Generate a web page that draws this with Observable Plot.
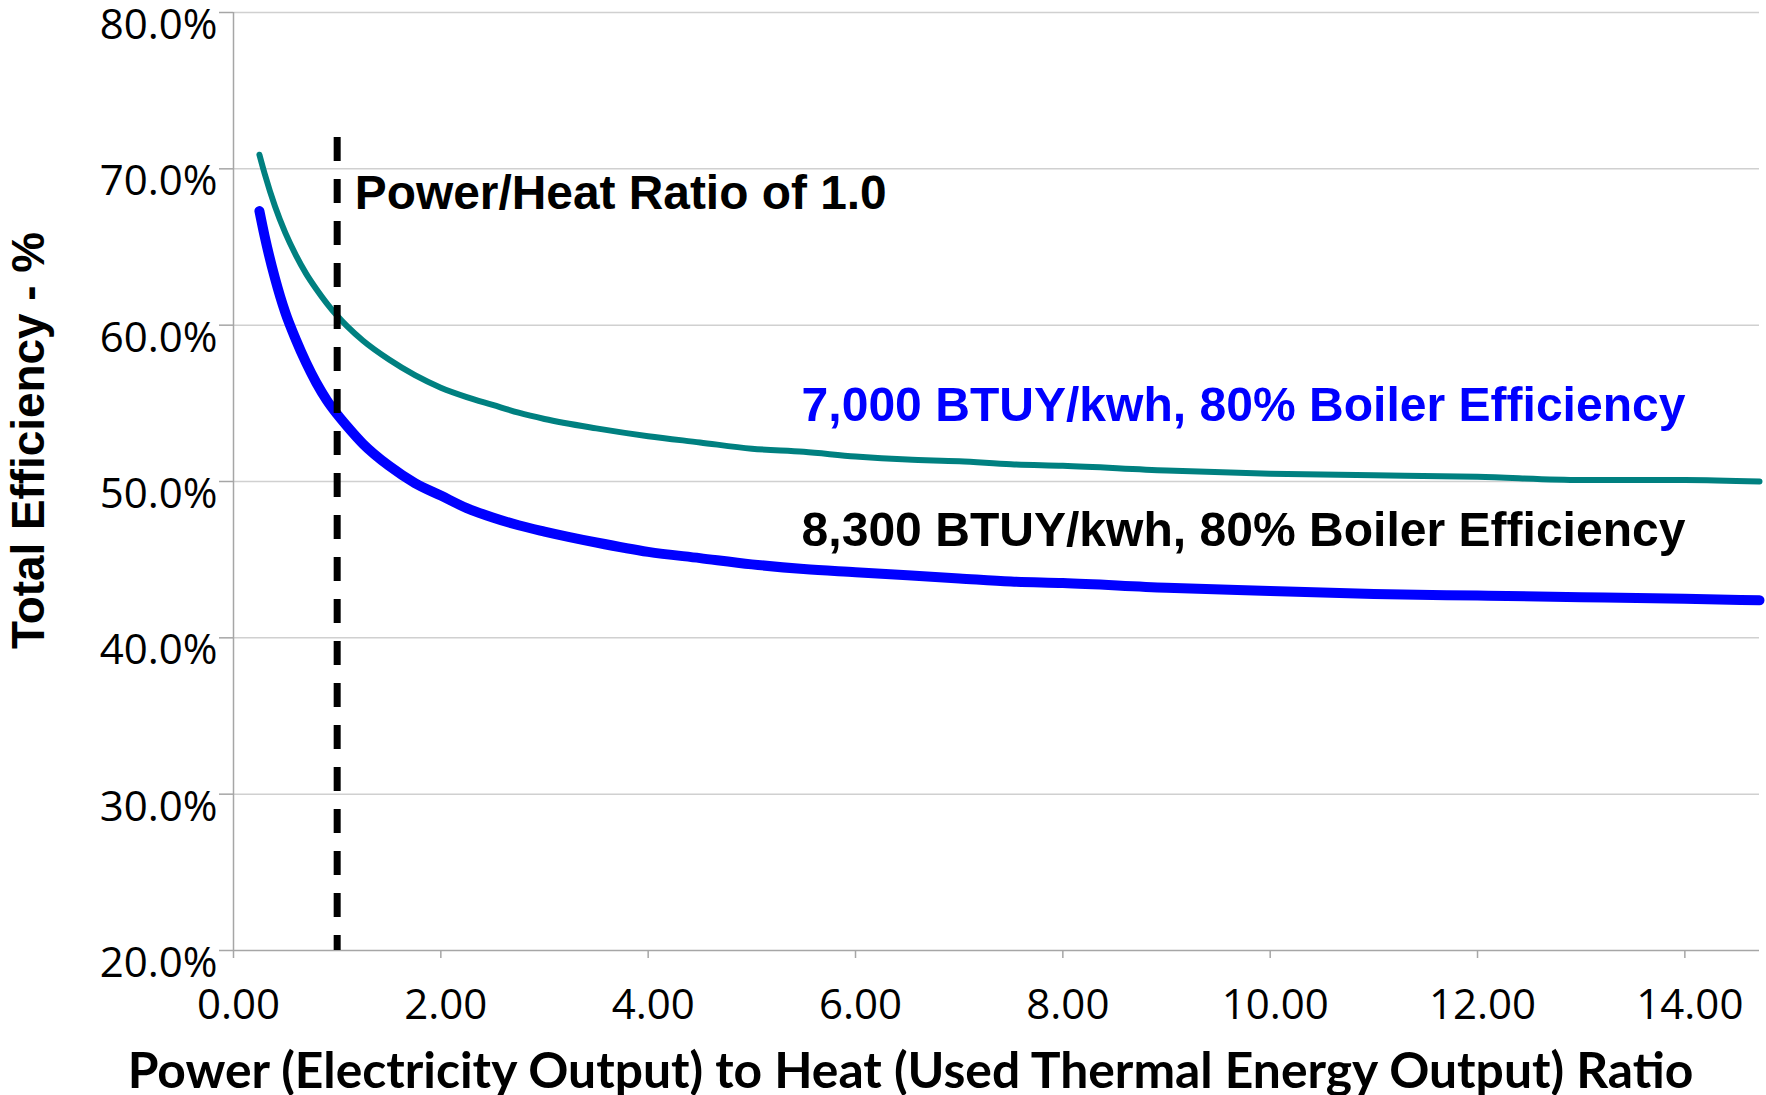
<!DOCTYPE html>
<html><head><meta charset="utf-8">
<script src="https://cdn.jsdelivr.net/npm/d3@7"></script>
<script src="https://cdn.jsdelivr.net/npm/@observablehq/plot@0.6"></script>
<style>html,body{margin:0;padding:0;background:#fff;overflow:hidden;}</style>
</head><body><div id="chart"></div>
<script>
// Power-to-heat ratio (x) sampled along the curves
const ratio = [0.25, 0.3, 0.4, 0.5, 0.6, 0.7, 0.8, 0.9, 1.0, 1.1, 1.25, 1.5, 1.75, 2, 2.25, 2.5, 2.75, 3, 3.5, 4, 4.5, 5, 5.5, 6, 6.5, 7, 7.5, 8, 9, 10, 11, 12, 13, 14, 14.72];
// Total efficiency (%)
const eff7000 = [70.9, 69.7, 67.6, 65.9, 64.5, 63.3, 62.3, 61.4, 60.6, 59.9, 59.0, 57.8, 56.8, 56.0, 55.4, 54.9, 54.4, 54.0, 53.4, 52.9, 52.5, 52.1, 51.9, 51.6, 51.4, 51.3, 51.1, 51.0, 50.7, 50.5, 50.4, 50.3, 50.1, 50.1, 50.0];
const eff8300 = [67.3, 65.7, 63.0, 60.8, 59.1, 57.6, 56.3, 55.2, 54.3, 53.5, 52.4, 51.0, 49.9, 49.1, 48.3, 47.7, 47.2, 46.8, 46.1, 45.5, 45.1, 44.7, 44.4, 44.2, 44.0, 43.8, 43.6, 43.5, 43.2, 43.0, 42.8, 42.7, 42.6, 42.5, 42.4];
const yTicks = [20, 30, 40, 50, 60, 70, 80];
const xTicks = [0, 2, 4, 6, 8, 10, 12, 14];
const label7000 = "7,000 BTUY/kwh, 80% Boiler Efficiency";
const label8300 = "8,300 BTUY/kwh, 80% Boiler Efficiency";
const markerRatio = [1.0];
const markerLabel = "Power/Heat Ratio of 1.0";
const xTitle = "Power (Electricity Output) to Heat (Used Thermal Energy Output) Ratio";
const yTitle = "Total Efficiency - %";

const rows7000 = ratio.map((r, i) => ({r, e: eff7000[i]}));
const rows8300 = ratio.map((r, i) => ({r, e: eff8300[i]}));

const arial = "'Liberation Sans', Arial, sans-serif";
const W = 1766, H = 1095, ML = 233, MR = 7, MT = 12, MB = 145;

const svg = Plot.plot({
  width: W, height: H,
  marginLeft: ML, marginRight: MR, marginTop: MT, marginBottom: MB,
  style: {fontFamily: "'Open Sans', sans-serif", background: "#fff", color: "#000", overflow: "visible"},
  x: {domain: [0, 14.72]},
  y: {domain: [20, 80]},
  marks: [
    Plot.ruleY(yTicks.filter(d => d > 20), {stroke: "#d0d0d0", strokeWidth: 1.5}),
    Plot.ruleY([20], {stroke: "#a6a6a6", strokeWidth: 1.5}),
    Plot.ruleX([0], {stroke: "#a6a6a6", strokeWidth: 1.5}),
    Plot.axisY(yTicks, {tickSize: 14, stroke: "#a6a6a6", strokeWidth: 1.5, fill: "none", label: null}),
    Plot.axisY(yTicks, {tickSize: 14, tickPadding: 2, stroke: "none", fill: "#000", fontSize: 42, dy: 13, tickFormat: d => d.toFixed(1) + "%", label: null}),
    Plot.axisX(xTicks, {tickSize: 8, stroke: "#a6a6a6", strokeWidth: 1.5, fill: "none", label: null}),
    Plot.axisX(xTicks, {tickSize: 8, tickPadding: 31, stroke: "none", fill: "#000", fontSize: 42, dx: 5, tickFormat: d => d.toFixed(2), label: null}),
    Plot.line(rows7000, {x: "r", y: "e", stroke: "#008080", strokeWidth: 6, curve: "monotone-x"}),
    Plot.line(rows8300, {x: "r", y: "e", stroke: "#0000ff", strokeWidth: 10, curve: "monotone-x"}),
    Plot.ruleX(markerRatio, {y1: 72, y2: 20, stroke: "#000", strokeWidth: 7, strokeDasharray: "24,18"}),
    Plot.text([markerLabel], {x: 1.17, y: 67.46, textAnchor: "start", lineAnchor: "bottom", fontSize: 48, fontWeight: "bold", fontFamily: arial, fill: "#000"}),
    Plot.text([label7000], {x: 5.48, y: 53.9, textAnchor: "start", lineAnchor: "bottom", fontSize: 48, fontWeight: "bold", fontFamily: arial, fill: "#0000ff"}),
    Plot.text([label8300], {x: 5.48, y: 45.9, textAnchor: "start", lineAnchor: "bottom", fontSize: 48, fontWeight: "bold", fontFamily: arial, fill: "#000"}),
    Plot.text([xTitle], {frameAnchor: "bottom-left", dx: 910 - ML, dy: 137, textAnchor: "middle", lineAnchor: "bottom", fontSize: 42, fontWeight: "bold", fontFamily: "Lato, 'Open Sans', sans-serif", fill: "#000"}),
    Plot.text([yTitle], {frameAnchor: "left", dx: 43 - ML, dy: 440 - (MT + (H - MT - MB) / 2), rotate: -90, textAnchor: "middle", lineAnchor: "bottom", fontSize: 44, fontWeight: "bold", fontFamily: arial, fill: "#000"})
  ]
});
document.getElementById("chart").appendChild(svg);

function fit(str, target) {
  const t = [...svg.querySelectorAll("text")].find(e => e.textContent === str);
  if (!t) return;
  const fs = parseFloat(getComputedStyle(t).fontSize);
  const w = t.getComputedTextLength();
  if (w > 0) t.style.fontSize = (fs * target / w).toFixed(2) + "px";
}
fit(xTitle, 1566);
fit(yTitle, 417);
fit(label7000, 884);
fit(label8300, 884);
fit(markerLabel, 532);
</script>
</body></html>
